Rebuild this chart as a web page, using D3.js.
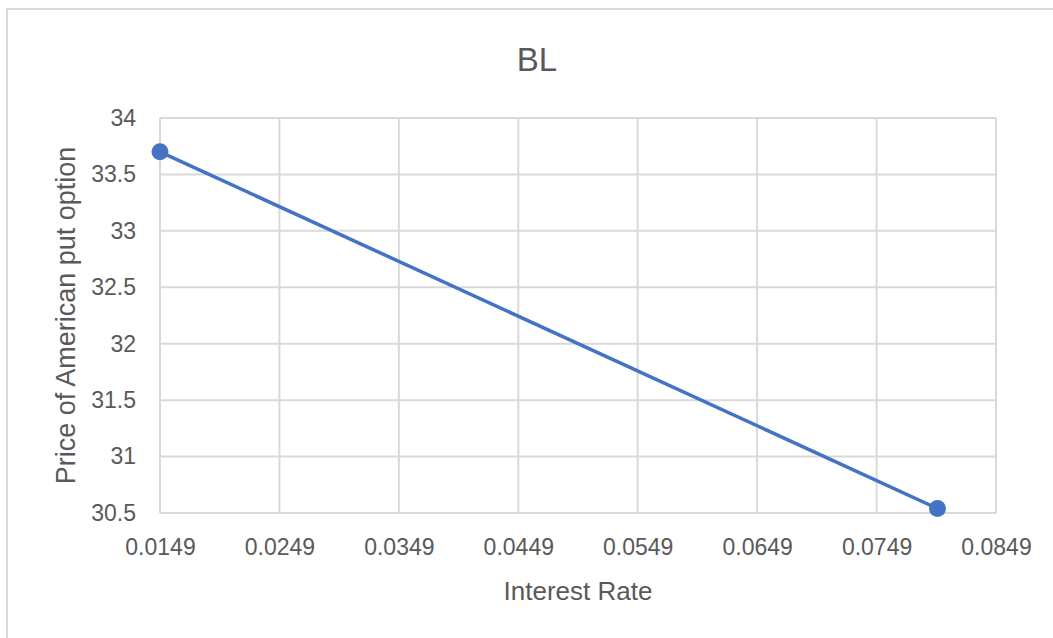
<!DOCTYPE html>
<html><head><meta charset="utf-8">
<script src="https://cdn.jsdelivr.net/npm/d3@7"></script>
<style>body{margin:0;background:#fff}svg{display:block}</style>
</head><body>
<svg id="c" width="1053" height="638"></svg>
<script>
const rates = [0.0149, 0.0800];
const prices = [33.70, 30.54];
const xTicks = [0.0149, 0.0249, 0.0349, 0.0449, 0.0549, 0.0649, 0.0749, 0.0849];
const yTicks = [30.5, 31, 31.5, 32, 32.5, 33, 33.5, 34];
const title = "BL";
const xTitle = "Interest Rate";
const yTitle = "Price of American put option";

const svg = d3.select("#c");
const font = "'Liberation Sans', Arial, sans-serif";
const txt = "#595959", grid = "#d9d9d9", blue = "#4472C4";
const L = 160, R = 996, T = 118, B = 513;

svg.append("rect").attr("x", 7).attr("y", 9).attr("width", 1060).attr("height", 640)
  .attr("fill", "#fff").attr("stroke", "#d9d9d9").attr("stroke-width", 2);

const x = d3.scaleLinear().domain([0.0149, 0.0849]).range([L, R]);
const y = d3.scaleLinear().domain([30.5, 34]).range([B, T]);

// gridlines
svg.append("g").selectAll("line").data(xTicks).join("line")
  .attr("x1", d => x(d)).attr("x2", d => x(d)).attr("y1", T).attr("y2", B)
  .attr("stroke", grid).attr("stroke-width", 2);
svg.append("g").selectAll("line").data(yTicks).join("line")
  .attr("x1", L).attr("x2", R).attr("y1", d => y(d)).attr("y2", d => y(d))
  .attr("stroke", grid).attr("stroke-width", 2);

const xa = svg.append("g").attr("transform", `translate(0,${B})`)
  .call(d3.axisBottom(x).tickValues(xTicks).tickFormat(d3.format(".4f")).tickSize(0).tickPadding(26));
xa.select(".domain").remove();
xa.selectAll("text").attr("fill", txt).style("font-family", font).style("font-size", "23px");

const ya = svg.append("g").attr("transform", `translate(${L},0)`)
  .call(d3.axisLeft(y).tickValues(yTicks).tickFormat(d => String(d)).tickSize(0).tickPadding(24));
ya.select(".domain").remove();
ya.selectAll("text").attr("fill", txt).style("font-family", font).style("font-size", "23px");

const pts = rates.map((r, i) => [r, prices[i]]);
svg.append("path").datum(pts)
  .attr("d", d3.line().x(d => x(d[0])).y(d => y(d[1])))
  .attr("fill", "none").attr("stroke", blue).attr("stroke-width", 3.5);
svg.append("g").selectAll("circle").data(pts).join("circle")
  .attr("cx", d => x(d[0])).attr("cy", d => y(d[1])).attr("r", 8.5)
  .attr("fill", blue);

svg.append("text").attr("x", 537).attr("y", 71).attr("text-anchor", "middle")
  .attr("fill", txt).style("font-family", font).style("font-size", "33px").text(title);
svg.append("text").attr("x", (L + R) / 2).attr("y", 600).attr("text-anchor", "middle")
  .attr("fill", txt).style("font-family", font).style("font-size", "26px").text(xTitle);
svg.append("text").attr("transform", `translate(75,${(T + B) / 2}) rotate(-90)`)
  .attr("text-anchor", "middle")
  .attr("fill", txt).style("font-family", font).style("font-size", "27px").text(yTitle);
</script>
</body></html>
